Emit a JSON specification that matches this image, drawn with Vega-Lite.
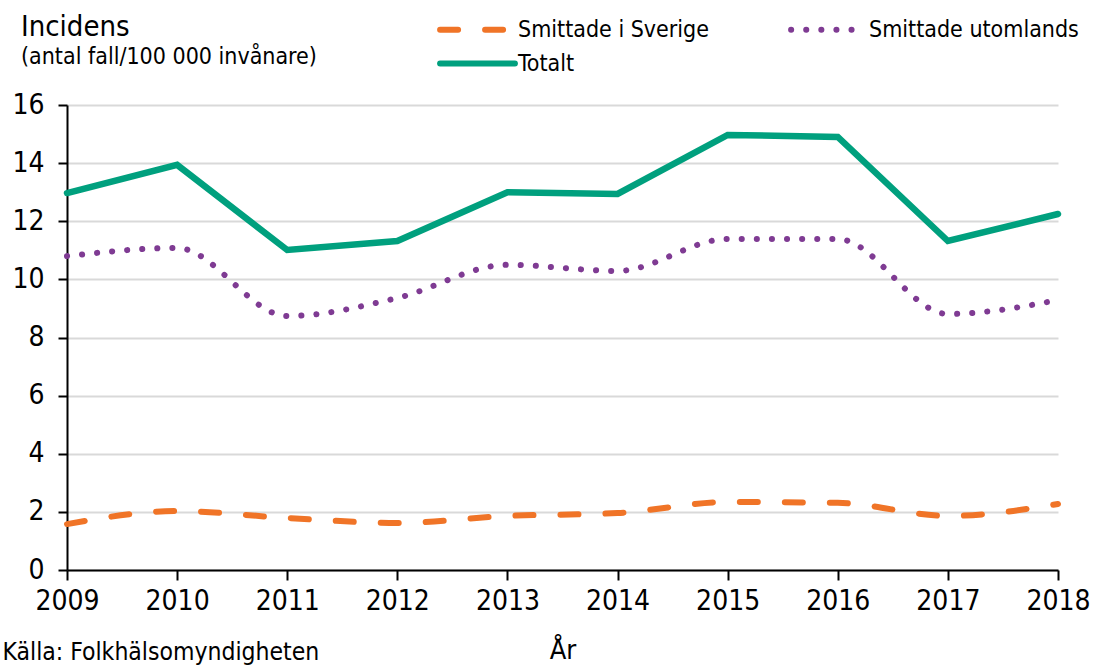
{
  "$schema": "https://vega.github.io/schema/vega-lite/v6.json",
  "width": 991,
  "height": 465,
  "autosize": {"type": "none"},
  "padding": {"left": 67, "top": 105, "right": 36, "bottom": 96},
  "background": "white",
  "config": {
    "font": "DejaVu Sans Condensed, DejaVu Sans",
    "view": {"stroke": null},
    "legend": {
      "title": null, "orient": "none", "symbolType": "stroke", "symbolSize": 5600, "symbolStrokeWidth": 6,
      "labelFontSize": 23, "labelColor": "black", "labelLimit": 400, "columnPadding": 70, "labelOffset": 0
    }
  },
  "title": {
    "text": "Incidens",
    "subtitle": "(antal fall/100 000 invånare)",
    "anchor": "start",
    "frame": "group",
    "dx": -46,
    "offset": 0,
    "dy": 80,
    "fontSize": 29,
    "fontWeight": "normal",
    "subtitleFontSize": 23,
    "subtitleColor": "black",
    "color": "black",
    "subtitlePadding": 4
  },
  "data": {
    "values": [
      {"year": 2009, "serie": "Smittade i Sverige", "value": 1.58},
      {"year": 2010, "serie": "Smittade i Sverige", "value": 2.03},
      {"year": 2011, "serie": "Smittade i Sverige", "value": 1.79},
      {"year": 2012, "serie": "Smittade i Sverige", "value": 1.62},
      {"year": 2013, "serie": "Smittade i Sverige", "value": 1.86},
      {"year": 2014, "serie": "Smittade i Sverige", "value": 1.96},
      {"year": 2015, "serie": "Smittade i Sverige", "value": 2.34},
      {"year": 2016, "serie": "Smittade i Sverige", "value": 2.31},
      {"year": 2017, "serie": "Smittade i Sverige", "value": 1.86},
      {"year": 2018, "serie": "Smittade i Sverige", "value": 2.27},
      {"year": 2009, "serie": "Smittade utomlands", "value": 10.8},
      {"year": 2010, "serie": "Smittade utomlands", "value": 11.08},
      {"year": 2011, "serie": "Smittade utomlands", "value": 8.74},
      {"year": 2012, "serie": "Smittade utomlands", "value": 9.36},
      {"year": 2013, "serie": "Smittade utomlands", "value": 10.5},
      {"year": 2014, "serie": "Smittade utomlands", "value": 10.29},
      {"year": 2015, "serie": "Smittade utomlands", "value": 11.39},
      {"year": 2016, "serie": "Smittade utomlands", "value": 11.39},
      {"year": 2017, "serie": "Smittade utomlands", "value": 8.81},
      {"year": 2018, "serie": "Smittade utomlands", "value": 9.29},
      {"year": 2009, "serie": "Totalt", "value": 12.97},
      {"year": 2010, "serie": "Totalt", "value": 13.94},
      {"year": 2011, "serie": "Totalt", "value": 11.01},
      {"year": 2012, "serie": "Totalt", "value": 11.32},
      {"year": 2013, "serie": "Totalt", "value": 13.0},
      {"year": 2014, "serie": "Totalt", "value": 12.94},
      {"year": 2015, "serie": "Totalt", "value": 14.97},
      {"year": 2016, "serie": "Totalt", "value": 14.9},
      {"year": 2017, "serie": "Totalt", "value": 11.32},
      {"year": 2018, "serie": "Totalt", "value": 12.25}
    ]
  },
  "layer": [
    {
      "transform": [{"filter": "datum.serie !== 'Totalt'"}],
      "mark": {"type": "line", "interpolate": "monotone", "strokeCap": "round", "strokeWidth": 6},
      "encoding": {
        "color": {
          "field": "serie", "type": "nominal",
          "scale": {"domain": ["Smittade i Sverige", "Smittade utomlands"], "range": ["#F07427", "#7F3B93"]},
          "legend": {
            "legendX": 370, "legendY": -116, "columns": 2, "direction": "horizontal",
            "encode": {"symbols": {"update": {"strokeCap": {"value": "round"}}}}
          }
        },
        "strokeDash": {
          "field": "serie", "type": "nominal",
          "scale": {"domain": ["Smittade i Sverige", "Smittade utomlands"], "range": [[18, 27], [0.1, 15]]}
        }
      }
    },
    {
      "transform": [{"filter": "datum.serie === 'Totalt'"}],
      "mark": {"type": "line", "strokeWidth": 6.5, "strokeCap": "round"},
      "encoding": {
        "color": {
          "field": "serie", "type": "nominal",
          "scale": {"domain": ["Totalt"], "range": ["#00A07E"]},
          "legend": {
            "legendX": 370, "legendY": -82,
            "encode": {"symbols": {"update": {"strokeCap": {"value": "round"}}}}
          }
        }
      }
    }
  ],
  "resolve": {"scale": {"color": "independent", "strokeDash": "independent"}, "legend": {"color": "independent"}},
  "encoding": {
    "x": {
      "field": "year", "type": "quantitative",
      "scale": {"domain": [2009, 2018], "nice": false, "zero": false},
      "axis": {
        "title": "År", "titleFontSize": 27, "titleFontWeight": "normal", "titleColor": "black", "titlePadding": 22,
        "values": [2009, 2010, 2011, 2012, 2013, 2014, 2015, 2016, 2017, 2018],
        "format": "d", "labelFontSize": 28, "labelColor": "black", "labelPadding": 7,
        "tickSize": 10, "tickColor": "black", "tickWidth": 2, "domainColor": "black", "domainWidth": 2,
        "grid": false, "labelFlush": false, "labelOverlap": false
      }
    },
    "y": {
      "field": "value", "type": "quantitative",
      "scale": {"domain": [0, 16], "nice": false},
      "axis": {
        "values": [0, 2, 4, 6, 8, 10, 12, 14, 16],
        "labelFontSize": 28, "labelColor": "black", "labelPadding": 14,
        "tickSize": 9, "tickColor": "black", "tickWidth": 2, "domainColor": "black", "domainWidth": 2,
        "grid": true, "gridColor": "#d9d9d9", "gridWidth": 2,
        "title": "Källa: Folkhälsomyndigheten", "titleAngle": 0, "titleAlign": "left", "titleBaseline": "alphabetic",
        "titleX": -65, "titleY": 554, "titleFontSize": 24.5, "titleFontWeight": "normal", "titleColor": "black"
      }
    }
  }
}
